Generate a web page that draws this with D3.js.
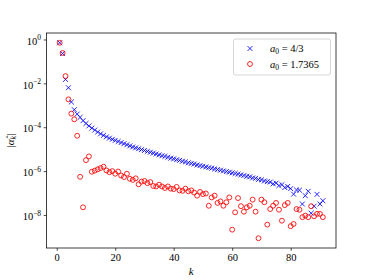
<!DOCTYPE html>
<html>
<head>
<meta charset="utf-8">
<title>coefficient decay</title>
<style>
  body{ margin:0; background:#fff; }
  svg{ display:block; }
  text{ font-family:"Liberation Serif","DejaVu Serif",serif; fill:#000; }
</style>
</head>
<body>
<script src="https://cdn.jsdelivr.net/npm/d3@7"></script>
<script>
  // k = 1..91
  var ks = d3.range(1, 92);

  // log10 |alpha_k|, a0 = 4/3 (blue crosses)
  var logA43 = [
    -0.15, -0.64, -1.82, -2.20, -2.85, -3.20, -3.40, -3.55, -3.70, -3.83,
    -3.94, -4.04, -4.13, -4.22, -4.30, -4.37, -4.44, -4.50, -4.55, -4.60,
    -4.65, -4.70, -4.75, -4.80, -4.85, -4.90, -4.94, -4.98, -5.02, -5.06,
    -5.10, -5.14, -5.18, -5.22, -5.26, -5.30, -5.33, -5.37, -5.41, -5.44,
    -5.48, -5.51, -5.55, -5.58, -5.62, -5.65, -5.68, -5.72, -5.75, -5.78,
    -5.81, -5.84, -5.87, -5.90, -5.93, -5.96, -5.99, -6.02, -6.05, -6.08,
    -6.11, -6.14, -6.17, -6.20, -6.24, -6.26, -6.31, -6.33, -6.38, -6.40,
    -6.45, -6.48, -6.50, -6.58, -6.55, -6.66, -6.62, -6.75, -6.70, -6.80,
    -7.05, -6.86, -6.87, -7.50, -7.12, -6.92, -7.92, -7.60, -7.06, -7.50,
    -7.35
  ];

  // log10 |alpha_k|, a0 = 1.7365 (red circles)
  var logA17 = [
    -0.15, -0.62, -1.67, -2.73, -3.38, -3.64, -4.39, -6.26, -7.65, -5.50,
    -5.33, -6.03, -5.98, -5.92, -5.86, -5.80, -5.97, -6.05, -6.00, -6.12,
    -6.02, -6.20, -6.27, -6.12, -6.35, -6.40, -6.33, -6.60, -6.48, -6.45,
    -6.55, -6.50, -6.68, -6.70, -6.62, -6.70, -6.77, -6.70, -6.80, -6.82,
    -6.72, -6.88, -6.90, -6.80, -6.92, -6.88, -6.98, -7.12, -6.95, -7.05,
    -7.02, -7.58, -7.20, -7.12, -7.45, -7.38, -7.58, -7.42, -7.20, -8.67,
    -7.88, -7.23, -7.60, -7.85, -7.65, -7.58, -7.30, -7.85, -9.06, -7.30,
    -7.42, -8.44, -7.73, -7.58, -7.45, -7.76, -8.26, -7.55, -7.45, -8.51,
    -8.41, -7.73, -7.76, -8.10, -8.03, -8.10, -7.60, -8.06, -7.95, -7.95,
    -8.10
  ];

  var xTicks = [0, 20, 40, 60, 80];
  var yTickExp = [0, -2, -4, -6, -8];
  var legendLabels = ["4/3", "1.7365"];

  var W = 374, H = 280;
  // plot box (note: "top" is taken by window.top, so use a prefix)
  var pL = 46.5, pR = 336, pT = 33, pB = 248;

  var svg = d3.select('body').append('svg')
    .attr('width', W).attr('height', H);

  // matplotlib style 5% margins
  var xPad = (91 - 1) * 0.05;
  var x = d3.scaleLinear().domain([1 - xPad, 91 + xPad]).range([pL, pR]);

  var lo = d3.min(logA17.concat(logA43)), hi = d3.max(logA17.concat(logA43));
  var yPad = (hi - lo) * 0.05;
  var y = d3.scaleLog()
    .domain([Math.pow(10, lo - yPad), Math.pow(10, hi + yPad)])
    .range([pB, pT]);

  var blue = ks.map(function(k, i){ return {k:k, v:Math.pow(10, logA43[i])}; });
  var red = ks.map(function(k, i){ return {k:k, v:Math.pow(10, logA17[i])}; });

  var ms = 2.45; // marker half size
  var lw = 0.85;

  // axes
  var xAxis = d3.axisBottom(x).tickValues(xTicks).tickSize(2.8).tickPadding(2.6);
  var gx = svg.append('g').attr('transform', 'translate(0,' + pB + ')').call(xAxis);
  gx.select('.domain').remove();
  gx.selectAll('line').attr('stroke', '#000').attr('stroke-width', 0.7);
  gx.selectAll('text').attr('font-size', 10.5).attr('dy', '0.75em')
    .style('font-family', '"Liberation Serif",serif');

  var yAxis = d3.axisLeft(y).tickValues(yTickExp.map(function(e){ return Math.pow(10, e); }))
    .tickSize(2.8).tickPadding(2.6);
  var gy = svg.append('g').attr('transform', 'translate(' + pL + ',0)').call(yAxis);
  gy.select('.domain').remove();
  gy.selectAll('line').attr('stroke', '#000').attr('stroke-width', 0.7);
  gy.selectAll('text').each(function(d){
    var e = Math.round(Math.log10(d));
    var t = d3.select(this).text(null)
      .attr('font-size', 10.5).attr('dy', '0.45em')
      .style('font-family', '"Liberation Serif",serif');
    t.append('tspan').text('10');
    t.append('tspan').attr('font-size', 7.5).attr('dy', -4.5)
      .text(e < 0 ? '\u2212' + (-e) : String(e));
  });

  // blue crosses
  svg.append('g').selectAll('path').data(blue).enter().append('path')
    .attr('d', function(d){
      var cx = x(d.k), cy = y(d.v);
      return 'M' + (cx - ms) + ',' + (cy - ms) + 'L' + (cx + ms) + ',' + (cy + ms) +
             'M' + (cx - ms) + ',' + (cy + ms) + 'L' + (cx + ms) + ',' + (cy - ms);
    })
    .attr('stroke', '#0000ff').attr('stroke-width', lw).attr('fill', 'none');

  // red open circles
  svg.append('g').selectAll('circle').data(red).enter().append('circle')
    .attr('cx', function(d){ return x(d.k); })
    .attr('cy', function(d){ return y(d.v); })
    .attr('r', ms)
    .attr('stroke', '#ff0000').attr('stroke-width', lw).attr('fill', 'none');

  // frame
  svg.append('rect')
    .attr('x', pL).attr('y', pT)
    .attr('width', pR - pL).attr('height', pB - pT)
    .attr('fill', 'none').attr('stroke', '#000').attr('stroke-width', 0.75);

  // axis titles
  svg.append('text')
    .attr('x', (pL + pR) / 2).attr('y', 275)
    .attr('text-anchor', 'middle').attr('font-size', 11).attr('font-style', 'italic')
    .text('k');

  var yl = svg.append('text')
    .attr('transform', 'translate(14,' + ((pT + pB) / 2) + ') rotate(-90)')
    .attr('text-anchor', 'middle').attr('font-size', 11);
  yl.append('tspan').text('|');
  yl.append('tspan').attr('font-style', 'italic').text('\u03b1\u0302');
  yl.append('tspan').attr('font-style', 'italic').attr('font-size', 8).attr('dy', 2).text('k');
  yl.append('tspan').attr('dy', -2).text('|');

  // legend
  var lg = svg.append('g');
  lg.append('rect')
    .attr('x', 233.5).attr('y', 39).attr('width', 97).attr('height', 36)
    .attr('rx', 2).attr('ry', 2)
    .attr('fill', '#fff').attr('fill-opacity', 0.8)
    .attr('stroke', '#cccccc').attr('stroke-width', 0.8);

  var rows = [48.5, 64];
  // cross entry
  lg.append('path')
    .attr('d', 'M' + (250 - ms) + ',' + (rows[0] - ms) + 'L' + (250 + ms) + ',' + (rows[0] + ms) +
               'M' + (250 - ms) + ',' + (rows[0] + ms) + 'L' + (250 + ms) + ',' + (rows[0] - ms))
    .attr('stroke', '#0000ff').attr('stroke-width', lw).attr('fill', 'none');
  lg.append('circle').attr('cx', 250).attr('cy', rows[1]).attr('r', ms)
    .attr('stroke', '#ff0000').attr('stroke-width', lw).attr('fill', 'none');

  legendLabels.forEach(function(lab, i){
    var t = lg.append('text').attr('x', 270).attr('y', rows[i] + 3.6).attr('font-size', 10.5);
    t.append('tspan').attr('font-style', 'italic').text('a');
    t.append('tspan').attr('font-size', 7.5).attr('dy', 2).text('0');
    t.append('tspan').attr('dy', -2).text(' = ' + lab);
  });
</script>
</body>
</html>
